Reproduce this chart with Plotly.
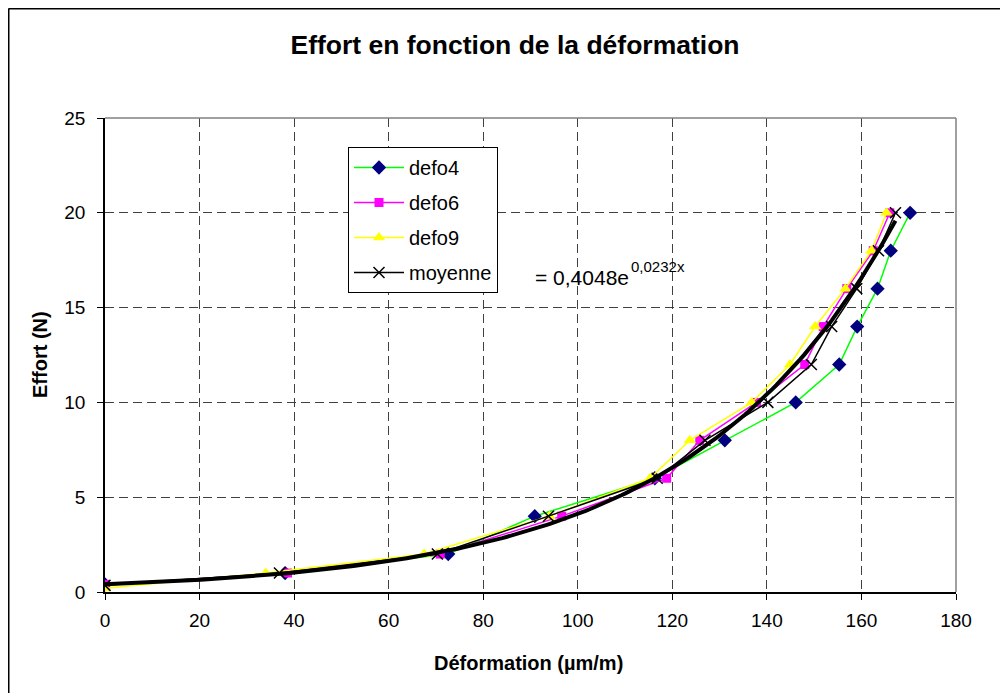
import numpy as np
import plotly.graph_objects as go

# Effort levels (N)
effort = [0.4, 1, 2, 4, 6, 8, 10, 12, 14, 16, 18, 20]
effort_defo9 = [0.2, 1, 2, 4, 6, 8, 10, 12, 14, 16, 18, 20]
effort_moy = [0.35, 1, 2, 4, 6, 8, 10, 12, 14, 16, 18, 20]

# Deformation (µm/m)
defo4 = [0, 38.1, 72.6, 90.9, 116.3, 131.1, 146.1, 155.3, 159.1, 163.4, 166.2, 170.3]
defo6 = [0, 38.6, 70.9, 96.6, 118.8, 125.8, 137.8, 148.0, 151.9, 156.9, 162.5, 166.0]
defo9 = [0, 34.0, 67.5, 94.0, 115.3, 123.7, 136.8, 144.9, 150.2, 156.6, 162.1, 165.3]
moyenne = [0, 36.9, 70.3, 93.8, 116.8, 126.9, 140.2, 149.4, 153.7, 159.0, 163.6, 167.2]

# Exponential trendline of moyenne (as shown on chart)
fit_a = 0.4048
fit_b = 0.0232

OFF = 8  # page body margin
W, H = 1008 - OFF, 693 - OFF
# plot area in window pixels
L, R, T, B = 105, 956, 118, 592

FONT = "Liberation Sans, Arial, sans-serif"

fig = go.Figure()

fig.add_trace(go.Scatter(x=defo4, y=effort, name="defo4", mode="lines+markers", legendgroup="a",
                         line=dict(color="#00FF00", width=1.5),
                         marker=dict(symbol="diamond", color="#000080", size=11)))
fig.add_trace(go.Scatter(x=defo6, y=effort, name="defo6", mode="lines+markers", legendgroup="b",
                         line=dict(color="#FF00FF", width=1.5),
                         marker=dict(symbol="square", color="#FF00FF", size=9)))
fig.add_trace(go.Scatter(x=defo9, y=effort_defo9, name="defo9", mode="lines+markers", legendgroup="c",
                         line=dict(color="#FFFF00", width=1.5),
                         marker=dict(symbol="triangle-up", color="#FFFF00", size=11)))
fig.add_trace(go.Scatter(x=moyenne, y=effort_moy, name="moyenne", mode="lines+markers", legendgroup="d",
                         line=dict(color="#000000", width=1.5),
                         marker=dict(symbol="x-thin-open", color="#000000", size=11,
                                     line=dict(color="#000000", width=1.5))))

xt = np.linspace(0, max(moyenne), 200)
fig.add_trace(go.Scatter(x=xt, y=fit_a * np.exp(fit_b * xt), mode="lines", showlegend=False,
                         line=dict(color="#000000", width=4), hoverinfo="skip"))

pw, ph = R - L, B - T
def px_x(p):
    return (p - L) / pw
def px_y(p):
    return (B - p) / ph

fig.update_layout(
    width=W, height=H,
    margin=dict(l=L - OFF, r=1008 - R, t=T - OFF, b=693 - B),
    paper_bgcolor="white", plot_bgcolor="white",
    font=dict(family=FONT, size=19, color="black"),
    title=dict(text="<b>Effort en fonction de la déformation</b>", x=(515 - OFF) / W, xref="container",
               xanchor="center", y=1 - (45 - OFF) / H, yref="container", yanchor="middle",
               font=dict(size=26.5, family=FONT, color="black")),
    showlegend=True,
    legend=dict(x=px_x(348), y=px_y(147), xanchor="left", yanchor="top",
                bgcolor="white", bordercolor="black", borderwidth=1,
                font=dict(size=20, family=FONT), tracegroupgap=6,
                itemwidth=50),
    xaxis=dict(range=[0, 180], tickvals=list(range(0, 181, 20)), showgrid=True,
               gridcolor="#404040", griddash="9px,5px", gridwidth=1,
               showline=True, linecolor="black", linewidth=1.5, mirror=False,
               ticks="outside", ticklen=6, tickcolor="black", ticklabelstandoff=4,
               zeroline=False, tickfont=dict(size=19)),
    yaxis=dict(range=[0, 25], tickvals=list(range(0, 26, 5)), showgrid=True,
               gridcolor="#404040", griddash="9px,5px", gridwidth=1,
               showline=True, linecolor="black", linewidth=1.5, mirror=False,
               ticks="outside", ticklen=6, tickcolor="black", ticklabelstandoff=8,
               zeroline=False, tickfont=dict(size=19)),
    shapes=[
        # plot area border (top and right, gray)
        dict(type="line", xref="paper", yref="paper", x0=0, x1=1, y0=1, y1=1,
             line=dict(color="#808080", width=1.5)),
        dict(type="line", xref="paper", yref="paper", x0=1, x1=1, y0=0, y1=1,
             line=dict(color="#808080", width=1.5)),
        # chart outer border (top and left)
        dict(type="line", xref="paper", yref="paper", x0=px_x(8.5), x1=px_x(1010), y0=px_y(8.5), y1=px_y(8.5),
             line=dict(color="black", width=2)),
        dict(type="line", xref="paper", yref="paper", x0=px_x(8.5), x1=px_x(8.5), y0=px_y(8.5), y1=px_y(700),
             line=dict(color="black", width=2)),
    ],
    annotations=[
        dict(text="= 0,4048e", xref="paper", yref="paper",
             x=px_x(533), y=px_y(277), xanchor="left", yanchor="middle",
             showarrow=False, font=dict(size=21, family=FONT)),
        dict(text="0,0232x", xref="paper", yref="paper",
             x=px_x(629), y=px_y(266), xanchor="left", yanchor="middle",
             showarrow=False, font=dict(size=15, family=FONT)),
        dict(text="<b>Déformation (µm/m)</b>", xref="paper", yref="paper",
             x=px_x(528), y=px_y(663), xanchor="center", yanchor="middle",
             showarrow=False, font=dict(size=20, family=FONT)),
        dict(text="<b>Effort (N)</b>", xref="paper", yref="paper",
             x=px_x(40), y=px_y(355), xanchor="center", yanchor="middle", textangle=-90,
             showarrow=False, font=dict(size=20, family=FONT)),
    ],
)

fig.write_html("out.html")
